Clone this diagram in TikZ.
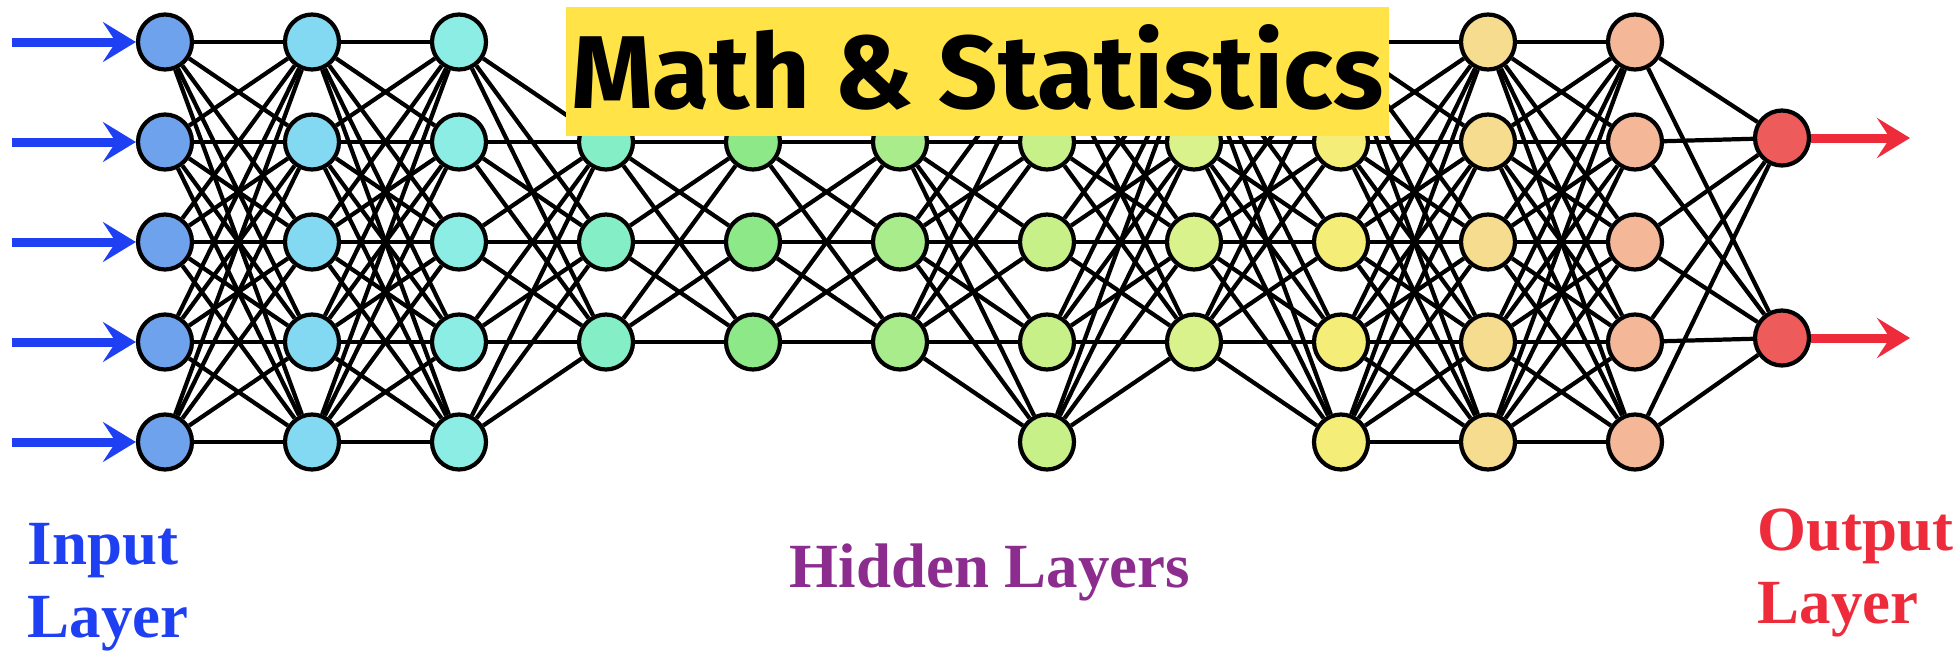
\documentclass[tikz,border=0pt]{standalone}
\usepackage{fontspec}
\usepackage{xcolor}
\usepackage{graphicx}
\usetikzlibrary{arrows.meta,positioning,shapes.geometric,backgrounds}
\newfontfamily\titlefont{Fira Sans}
\newfontfamily\labelfont{Liberation Serif}

% layer fills, blue -> red
\definecolor{L1}{HTML}{6FA2EC}
\definecolor{L2}{HTML}{84D9F2}
\definecolor{L3}{HTML}{8CEDE4}
\definecolor{L4}{HTML}{84EEC6}
\definecolor{L5}{HTML}{8DE887}
\definecolor{L6}{HTML}{A8EC8C}
\definecolor{L7}{HTML}{C8F088}
\definecolor{L8}{HTML}{DAF28B}
\definecolor{L9}{HTML}{F4EE78}
\definecolor{L10}{HTML}{F6DC8E}
\definecolor{L11}{HTML}{F4B898}
\definecolor{L12}{HTML}{EE5B5B}
\definecolor{inblue}{HTML}{1E40F2}
\definecolor{hidpurple}{HTML}{8B2C8E}
\definecolor{outred}{HTML}{EE2B3B}
\definecolor{titleyellow}{HTML}{FFE347}

\begin{document}
\begin{tikzpicture}[x=1cm, y=-1cm,
    neuron/.style={ellipse, draw=black, line width=1.2pt, minimum width=0.54cm, minimum height=0.55cm, inner sep=0pt},
    link/.style={line width=1.2pt, black},
    inarr/.style={line width=0.09cm, inblue, -{Stealth[length=0.33cm, width=0.40cm, inset=0.13cm]}},
    outarr/.style={line width=0.09cm, outred, -{Stealth[length=0.33cm, width=0.40cm, inset=0.13cm]}},
    lbl/.style={font=\labelfont\bfseries\fontsize{17.9}{20.5}\selectfont, inner sep=0pt, align=left}]
\useasboundingbox (0,0) rectangle (19.56,6.52);
% neurons (x: 1.47cm per layer, y: 1cm per row)
\foreach \c/\rows in {1/{1,2,3,4,5}, 2/{1,2,3,4,5}, 3/{1,2,3,4,5}, 4/{2,3,4}, 5/{2,3,4}, 6/{2,3,4},
    7/{1,2,3,4,5}, 8/{1,2,3,4}, 9/{1,2,3,4,5}, 10/{1,2,3,4,5}, 11/{1,2,3,4,5}}
  \foreach \r in \rows
    \node[neuron, fill=L\c] (n\c-\r) at ({1.65+1.47*(\c-1)}, {0.42+(\r-1)}) {};
\node[neuron, fill=L12] (n12-2) at (17.82,1.38) {};
\node[neuron, fill=L12] (n12-4) at (17.82,3.38) {};
% weights, fully connected
\begin{scope}[on background layer]
\fill[white] (0,0) rectangle (19.56,6.52);
\foreach \a/\b/\arows/\brows in {1/2/{1,2,3,4,5}/{1,2,3,4,5}, 2/3/{1,2,3,4,5}/{1,2,3,4,5},
    3/4/{1,2,3,4,5}/{2,3,4}, 4/5/{2,3,4}/{2,3,4}, 5/6/{2,3,4}/{2,3,4}, 6/7/{2,3,4}/{1,2,3,4,5},
    7/8/{1,2,3,4,5}/{1,2,3,4}, 8/9/{1,2,3,4}/{1,2,3,4,5}, 9/10/{1,2,3,4,5}/{1,2,3,4,5},
    10/11/{1,2,3,4,5}/{1,2,3,4,5}, 11/12/{1,2,3,4,5}/{2,4}}
  \foreach \i in \arows
    \foreach \j in \brows
      \draw[link] (n\a-\i) -- (n\b-\j);
\end{scope}
% inputs and outputs
\foreach \r in {1,...,5} {
  \coordinate (in\r) at (0.12, {0.42+(\r-1)});
  \draw[inarr] (in\r) -- (n1-\r);
}
\coordinate (out2) at (19.10,1.38);
\coordinate (out4) at (19.10,3.38);
\draw[outarr] (n12-2) -- (out2);
\draw[outarr] (n12-4) -- (out4);
% banner
\node[fill=titleyellow, anchor=north west, inner xsep=0.055cm, inner ysep=0pt, text height=1.02cm, text depth=0.27cm]
  (title) at (5.65,0.06) {\resizebox{8.12cm}{0.84cm}{\titlefont\bfseries Math \& Statistics}};
% layer labels (base = last line)
\node[lbl, text=inblue, anchor=base west] (inlbl) at (0.27,6.37) {Input\\Layer};
\node[lbl, text=hidpurple, anchor=base] (hidlbl) at (9.90,5.87) {Hidden Layers};
\node[lbl, text=outred, anchor=base west] (outlbl) at (17.57,6.23) {Output\\Layer};
\end{tikzpicture}
\end{document}
